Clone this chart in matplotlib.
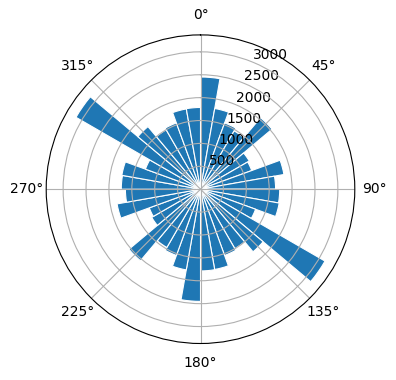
import numpy as np
import matplotlib
matplotlib.use("Agg")
import matplotlib.pyplot as plt

# Bin start angles (degrees, clockwise from north) and counts
bin_starts_deg = list(range(0, 360, 10))
counts = [2450, 1790, 1540, 1470, 2040, 1230, 1190, 1850, 1640,
          1730, 1745, 1280, 3140, 1785, 1500, 1540, 1780, 1785,
          2450, 1790, 1540, 1470, 2040, 1230, 1190, 1850, 1640,
          1730, 1745, 1280, 3140, 1785, 1500, 1540, 1780, 1785]
bin_width_deg = 10
r_max = 3370

fig = plt.figure(figsize=(3.96, 3.80), dpi=100)
ax = fig.add_axes([(200.5 - 154.3) / 396, (380 - 189.2 - 154.3) / 380,
                   308.6 / 396, 308.6 / 380], projection="polar")
ax.set_theta_zero_location("N")
ax.set_theta_direction(-1)
ax.bar(np.deg2rad(bin_starts_deg), counts, width=np.deg2rad(bin_width_deg),
       align="edge", color="C0", edgecolor="white", linewidth=0.8)
ax.set_ylim(0, r_max)
ax.set_yticks([500, 1000, 1500, 2000, 2500, 3000])
fig.savefig("out.png", dpi=100)
